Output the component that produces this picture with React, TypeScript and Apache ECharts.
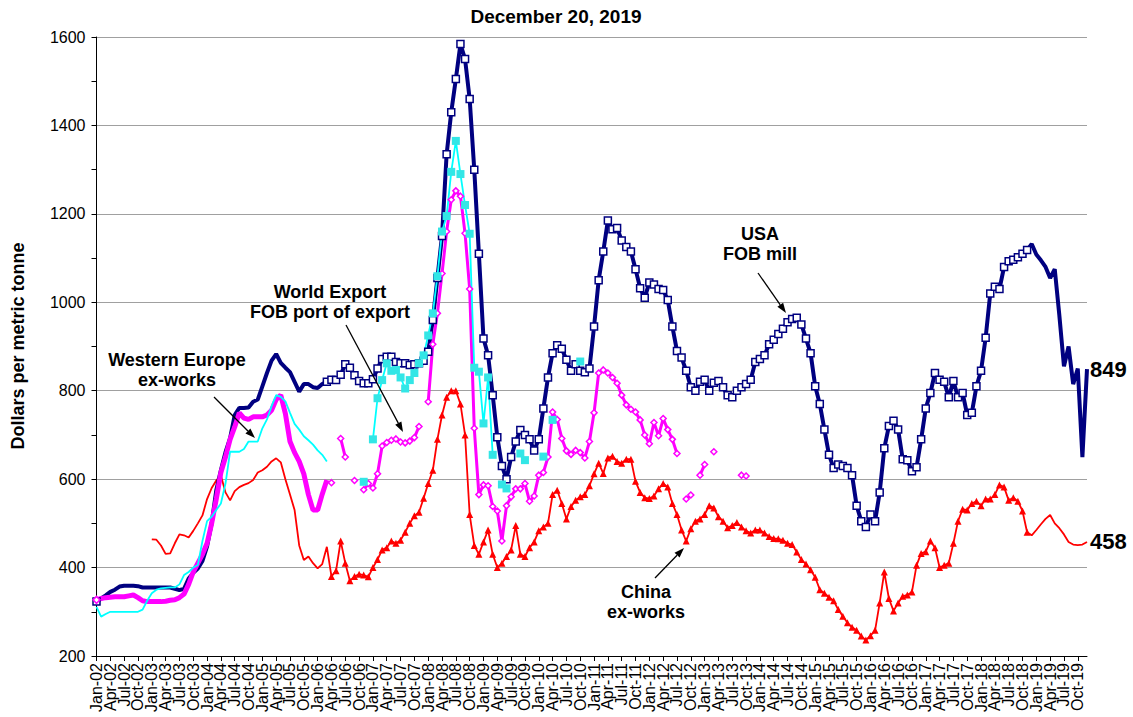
import React, { useEffect, useRef } from "react";
import * as echarts from "echarts";

const FONT = "'Liberation Sans', Arial, Helvetica, sans-serif";

const MONTH_NAMES = ["Jan", "Feb", "Mar", "Apr", "May", "Jun", "Jul", "Aug", "Sep", "Oct", "Nov", "Dec"];
const YEARS = [2002, 2003, 2004, 2005, 2006, 2007, 2008, 2009, 2010, 2011, 2012, 2013, 2014, 2015, 2016, 2017, 2018, 2019];
const monthLabels: string[] = [];
YEARS.forEach((y) => MONTH_NAMES.forEach((m) => monthLabels.push(`${m}-${String(y % 100).padStart(2, "0")}`)));

const TITLE = "December 20, 2019";
const Y_TITLE = "Dollars per metric tonne";
const Y_TICKS = { min: 200, max: 1600, step: 200 };

// USA FOB mill, monthly, Jan-02 .. Dec-19
const usaFobMill: (number | null)[] = [
  323, 330, 337, 345, 350, 357, 359, 359, 359, 358,
  355, 355, 355, 355, 355, 355, 355, 352, 349, 352,
  375, 388, 398, 415, 448, 500, 575, 620, 661, 693,
  745, 761, 761, 762, 775, 780, 810, 840, 868, 883,
  863, 852, 842, 820, 798, 815, 815, 808, 806, 815,
  820, 825, 824, 836, 860, 852, 835, 822, 817, 817,
  826, 850, 872, 877, 877, 865, 862, 862, 858, 860,
  862, 868, 888, 960, 1055, 1150, 1335, 1430, 1505, 1584,
  1550, 1460, 1300, 1110, 918, 880, 790, 695, 630, 600,
  650, 685, 711, 700, 690, 665, 690, 760, 830, 885,
  903, 895, 870, 845, 860, 845, 842, 850, 945, 1050,
  1115, 1185, 1165, 1168, 1140, 1125, 1115, 1075, 1032, 1010,
  1045, 1040, 1030, 1028, 1005, 945, 890, 875, 845, 808,
  800, 820, 825, 800, 818, 822, 808, 790, 785, 800,
  808, 815, 825, 865, 872, 880, 905, 915, 928, 940,
  955, 962, 965, 950, 918, 885, 810, 770, 712, 655,
  625, 633, 630, 625, 609, 540, 505, 492, 520, 505,
  570, 670, 720, 732, 712, 645, 643, 618, 627, 690,
  760, 795, 840, 825, 820, 785, 822, 785, 795, 745,
  750, 810, 845, 920, 1020, 1035, 1030, 1080, 1093, 1096,
  1102, 1110, 1118, 1132, 1108, 1095, 1080, 1055, 1075, 970,
  855, 900, 815, 850, 650, 849,
];

// China ex-works
const chinaExWorks: (number | null)[] = [
  null, null, null, null, null, null, null, null, null, null, null, null,
  464, 463, 450, 431, 432, 455, 475, 473,
  468, 483, 500, 518, 555, 580, 597, 608, 570, 552,
  573, 582, 587, 591, 598, 615, 620, 628, 640, 647,
  638, 600, 565, 530, 450, 417, 425, 410, 398, 408,
  447, 380, 393, 460, 410, 370, 380, 385, 383, 379,
  400, 418, 440, 445, 460, 455, 462, 480, 500, 517,
  525, 557, 590, 620, 690, 745, 785, 800, 800, 770,
  700, 520, 450, 430, 458, 485, 430, 400, 410, 425,
  440, 495, 430, 425, 445, 458, 483, 492, 500, 565,
  575, 545, 510, 538, 552, 560, 565, 585, 612, 636,
  613, 648, 652, 640, 636, 645, 645, 595, 570, 558,
  556, 562, 578, 590, 582, 545, 520, 485, 460, 488,
  505, 510, 520, 540, 535, 515, 505, 490, 495, 502,
  492, 483, 478, 485, 485, 478, 470, 466, 465, 462,
  455, 452, 435, 418, 408, 395, 378, 350, 342, 333,
  325, 305, 290, 275, 265, 258, 245, 236, 246, 258,
  320, 390, 330, 302, 320, 335, 338, 345, 405, 432,
  436, 460, 445, 400, 405, 410, 455, 505, 532, 530,
  545, 550, 540, 555, 555, 565, 587, 582, 552, 558,
  550, 528, 480, 473, 485, 498, 510, 519, 500, 489,
  475, 458, 452, 451, 452, 458,
];

// World Export FOB port of export
const worldExportFob: (number | null)[] = [
  327, 330, 332, 333, 334, 334, 334, 336, 338, 332,
  325, 323, 323, 323, 323, 324, 326, 327, 332, 340,
  362, 390, 410, 430, 455, 500, 555, 615, 650, 690,
  718, 750, 738, 735, 741, 741, 741, 745, 756, 780,
  790, 748, 685, 660, 640, 612, 565, 530, 530, 566,
  598, 592, null, 692, 650, null, 597, null, 576, 590,
  580, 612, 675, 683, 688, 691, 684, 682, 686, 694,
  719, null, 775, 905, 975, 1065, 1160, 1232, 1252, 1240,
  1156, 1030, 715, 565, 587, 585, 538, 528, 460, 540,
  560, 578, 578, 590, 550, 562, 609, 615, 650, 752,
  735, 692, 664, 656, 665, 660, 648, 685, 750, 840,
  847, 840, 830, 817, 790, 768, 758, 752, 734, 700,
  680, 728, 698, 737, 712, 690, 658, null, 555, 564,
  null, 609, 633, null, 662, null, null, null, null, null,
  609, 607, null, null, null, null, null, null, null, null,
  null, null, null, null, null, null, null, null, null, null,
  null, null, null, null, null, null, null, null, null, null,
  null, null, null, null, null, null, null, null, null, null,
  null, null, null, null, null, null, null, null, null, null,
  null, null, null, null, null, null, null, null, null, null,
  null, null, null, null, null, null, null, null, null, null,
  null, null, null, null, null, null,
];

// Western Europe ex-works
const westernEuropeExWorks: (number | null)[] = [
  311, 289, 295, 300, 300, 300, 300, 300, 300, 300,
  305, 325, 342, 350, 353, 354, 355, 355, 362, 383,
  390, 400, 406, 460, 505, 515, 530, 545, 590, 662,
  662, 662, 668, 685, 685, 685, 715, 735, 765, 790,
  786, 776, 750, 725, 712, 697, 688, 678, 665, 655,
  640, null, null, null, null, null, null, null, 594, null,
  690, 783, 824, 862, 845, 847, 830, 805, 824, 840,
  862, 880, 925, 975, 1059, 1160, 1195, 1295, 1365, 1290,
  1220, 1155, 852, 843, 726, 830, 655, null, 588, 579,
  null, null, 658, 643, null, null, null, 651, null, 734,
  null, null, null, null, null, 866, null, null, null, null,
  null, null, null, null, null, null, null, null, null, null,
  null, null, null, null, null, null, null, null, null, null,
  null, null, null, null, null, null, null, null, null, null,
  null, null, null, null, null, null, null, null, null, null,
  null, null, null, null, null, null, null, null, null, null,
  null, null, null, null, null, null, null, null, null, null,
  null, null, null, null, null, null, null, null, null, null,
  null, null, null, null, null, null, null, null, null, null,
  null, null, null, null, null, null, null, null, null, null,
  null, null, null, null, null, null, null, null, null, null,
  null, null, null, null, null, null,
];

// index ranges (months) drawn with markers
const USA_MARKS = { from: 50, to: 202, extra: [0] };
const CHINA_MARKS = { from: 51, to: 202, extra: [] as number[] };
const WE_MARKS = { from: 58, to: 215, extra: [] as number[] };
const WX_SPLIT = 50;

function marked(values: (number | null)[], marks: { from: number; to: number; extra: number[] }, keep?: (i: number) => boolean) {
  return values.map((v, i) => {
    if (v === null || (keep && !keep(i))) return "-";
    const on = (i >= marks.from && i <= marks.to) || marks.extra.includes(i);
    return on ? v : { value: v, symbol: "none" };
  });
}

function arrow(x1: number, y1: number, x2: number, y2: number) {
  const ang = Math.atan2(y2 - y1, x2 - x1);
  const L = 10;
  const W = 3.5;
  const bx = x2 - L * Math.cos(ang);
  const by = y2 - L * Math.sin(ang);
  const px = -Math.sin(ang) * W;
  const py = Math.cos(ang) * W;
  return [
    { type: "line", silent: true, z: 100, shape: { x1, y1, x2: bx, y2: by }, style: { stroke: "#000", lineWidth: 1.3 } },
    {
      type: "polygon",
      silent: true,
      z: 100,
      shape: { points: [[x2, y2], [bx + px, by + py], [bx - px, by - py]] },
      style: { fill: "#000" },
    },
  ];
}

function label(text: string, x: number, y: number, size = 18) {
  return {
    type: "text",
    silent: true,
    z: 100,
    x,
    y,
    style: {
      text,
      fill: "#000",
      font: `bold ${size}px ${FONT}`,
      textAlign: "center",
      align: "center",
      textVerticalAlign: "middle",
      verticalAlign: "middle",
      lineHeight: 20,
    },
  };
}

const endLabel = {
  show: true,
  formatter: "{c}",
  color: "#000",
  fontFamily: FONT,
  fontSize: 22,
  fontWeight: "bold",
  distance: 3,
};

// x-axis labels every 3 months, split across two stacked axes (Jan/Jul and Apr/Oct)
const xLabelStyle = { rotate: 90, fontSize: 16, color: "#000", fontFamily: FONT, margin: 7 };

export default function App() {
  const ref = useRef<HTMLDivElement>(null);

  useEffect(() => {
    if (!ref.current) return;
    const chart = echarts.init(ref.current, undefined, { renderer: "svg" });

    const option: any = {
      animation: false,
      backgroundColor: "#ffffff",
      grid: { left: 96.5, top: 37, right: 46, bottom: 61, containLabel: false },
      xAxis: [
        {
          type: "category",
          data: monthLabels,
          boundaryGap: false,
          position: "bottom",
          axisLine: { lineStyle: { color: "#000", width: 1 } },
          axisTick: { interval: 2, length: 5, lineStyle: { color: "#000" } },
          axisLabel: { ...xLabelStyle, interval: (i: number) => i % 6 === 0 },
          splitLine: { show: false },
        },
        {
          type: "category",
          data: monthLabels,
          boundaryGap: false,
          position: "bottom",
          offset: 0,
          axisLine: { show: false },
          axisTick: { show: false },
          axisLabel: { ...xLabelStyle, interval: (i: number) => i % 6 === 3 },
          splitLine: { show: false },
        },
      ],
      yAxis: {
        type: "value",
        min: Y_TICKS.min,
        max: Y_TICKS.max,
        interval: Y_TICKS.step,
        axisLine: { show: true, lineStyle: { color: "#000", width: 1 } },
        axisTick: { show: true, length: 5, lineStyle: { color: "#000" } },
        minorTick: { show: true, splitNumber: 2, length: 5, lineStyle: { color: "#000" } },
        axisLabel: { fontSize: 16, color: "#000", fontFamily: FONT, margin: 11, formatter: (v: number) => String(v) },
        splitLine: { show: true, lineStyle: { color: "#a0a0a0", width: 1 } },
      },
      series: [
        {
          name: "China ex-works",
          type: "line",
          silent: true,
          data: marked(chinaExWorks, CHINA_MARKS),
          symbol: "triangle",
          symbolSize: 7,
          showAllSymbol: true,
          connectNulls: false,
          lineStyle: { color: "#ff0000", width: 1.8 },
          itemStyle: { color: "#ff0000" },
          emphasis: { disabled: true },
          endLabel,
        },
        {
          name: "USA FOB mill",
          type: "line",
          silent: true,
          data: marked(usaFobMill, USA_MARKS),
          symbol: "rect",
          symbolSize: 7,
          showAllSymbol: true,
          lineStyle: { color: "#000080", width: 4 },
          itemStyle: { color: "#ffffff", borderColor: "#000080", borderWidth: 1.5 },
          emphasis: { disabled: true },
          endLabel,
        },
        {
          name: "World Export early",
          type: "line",
          silent: true,
          data: marked(worldExportFob, { from: 0, to: 0, extra: [] }, (i) => i <= WX_SPLIT),
          symbol: "diamond",
          symbolSize: 7,
          showAllSymbol: true,
          lineStyle: { color: "#ff00ff", width: 5 },
          itemStyle: { color: "#ffffff", borderColor: "#ff00ff", borderWidth: 1.5 },
          emphasis: { disabled: true },
        },
        {
          name: "World Export FOB port of export",
          type: "line",
          silent: true,
          data: marked(worldExportFob, { from: WX_SPLIT + 1, to: 215, extra: [] }, (i) => i > WX_SPLIT),
          symbol: "diamond",
          symbolSize: 6,
          showAllSymbol: true,
          lineStyle: { color: "#ff00ff", width: 3 },
          itemStyle: { color: "#ffffff", borderColor: "#ff00ff", borderWidth: 1.5 },
          emphasis: { disabled: true },
        },
        {
          name: "Western Europe ex-works",
          type: "line",
          silent: true,
          data: marked(westernEuropeExWorks, WE_MARKS),
          symbol: "rect",
          symbolSize: 8,
          showAllSymbol: true,
          lineStyle: { color: "#00ffff", width: 1.8 },
          itemStyle: { color: "#33e6e6" },
          emphasis: { disabled: true },
        },
      ],
      graphic: [
        {
          type: "text",
          silent: true,
          x: 556,
          y: 16,
          style: {
            text: TITLE,
            fill: "#000",
            font: `bold 19px ${FONT}`,
            textAlign: "center",
            align: "center",
            textVerticalAlign: "middle",
            verticalAlign: "middle",
          },
        },
        {
          type: "text",
          silent: true,
          x: 18,
          y: 346,
          rotation: Math.PI / 2,
          style: {
            text: Y_TITLE,
            fill: "#000",
            font: `bold 18px ${FONT}`,
            textAlign: "center",
            align: "center",
            textVerticalAlign: "middle",
            verticalAlign: "middle",
          },
        },
        label("Western Europe\nex-works", 177, 370),
        label("World Export\nFOB port of export", 330, 302),
        label("USA\nFOB mill", 760, 244),
        label("China\nex-works", 646, 602),
        ...arrow(214, 397, 255, 438),
        ...arrow(346, 325, 403, 432),
        ...arrow(758, 273, 786, 313),
        ...arrow(655, 578, 684, 548),
      ],
    };

    chart.setOption(option);
    return () => chart.dispose();
  }, []);

  return <div ref={ref} style={{ position: "absolute", left: 0, top: 0, width: 1133, height: 717 }} />;
}
